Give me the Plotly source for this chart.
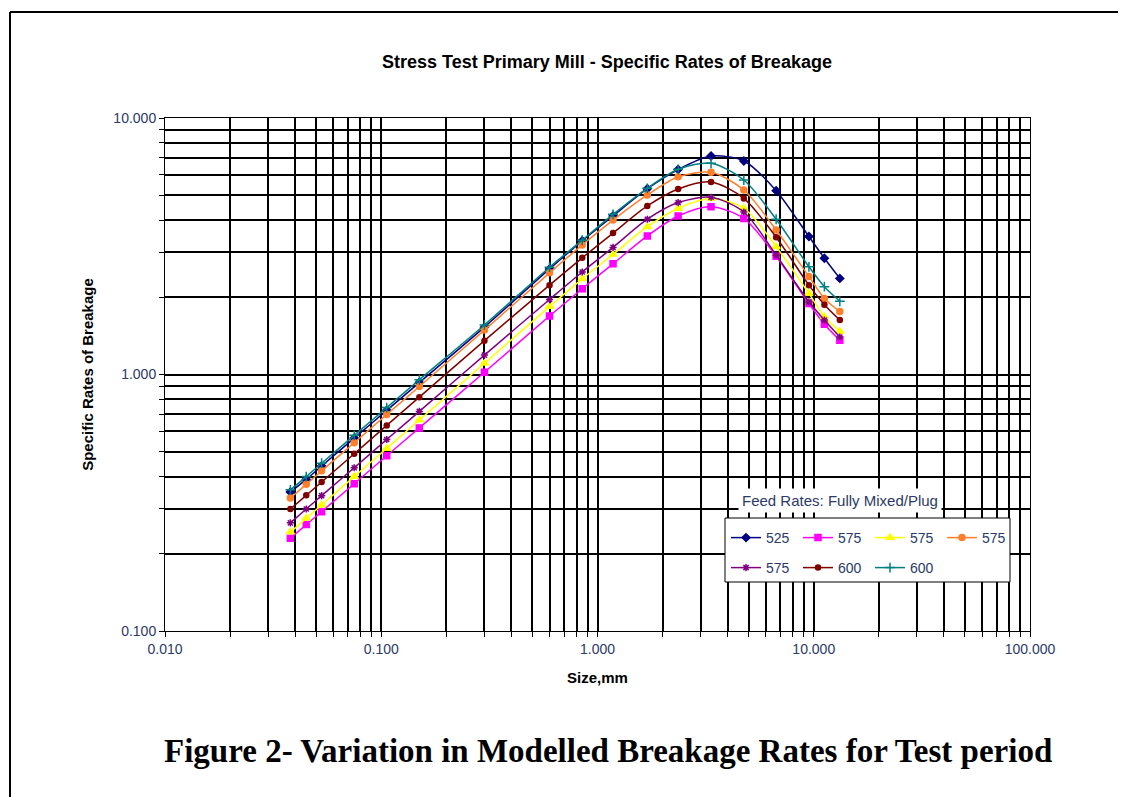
import plotly.graph_objects as go

# particle sizes (mm)
sizes = [0.038, 0.045, 0.053, 0.075, 0.106, 0.150, 0.300, 0.600, 0.850,
         1.18, 1.70, 2.36, 3.35, 4.75, 6.70, 9.50, 11.2, 13.2]

# specific rates of breakage per feed rate run
rate_525 = [0.348, 0.39, 0.44, 0.565, 0.725, 0.93, 1.53, 2.58, 3.32,
            4.15, 5.30, 6.30, 7.11, 6.80, 5.21, 3.45, 2.84, 2.37]
rate_575a = [0.230, 0.260, 0.292, 0.375, 0.482, 0.619, 1.02, 1.69, 2.16,
             2.70, 3.47, 4.15, 4.51, 4.06, 2.89, 1.89, 1.57, 1.36]
rate_575b = [0.243, 0.275, 0.310, 0.400, 0.515, 0.665, 1.106, 1.84, 2.36,
             2.94, 3.77, 4.44, 4.85, 4.45, 3.15, 2.07, 1.68, 1.47]
rate_575c = [0.330, 0.373, 0.421, 0.542, 0.698, 0.898, 1.49, 2.49, 3.20,
             4.00, 5.01, 5.90, 6.14, 5.24, 3.66, 2.41, 1.98, 1.76]
rate_575d = [0.264, 0.299, 0.337, 0.433, 0.558, 0.718, 1.19, 1.96, 2.51,
             3.13, 4.03, 4.68, 4.91, 4.30, 2.92, 1.92, 1.63, 1.40]
rate_600a = [0.299, 0.338, 0.381, 0.491, 0.633, 0.816, 1.355, 2.23, 2.85,
             3.56, 4.54, 5.29, 5.63, 4.86, 3.43, 2.23, 1.87, 1.63]
rate_600b = [0.355, 0.40, 0.451, 0.579, 0.743, 0.954, 1.56, 2.62, 3.34,
             4.21, 5.32, 6.31, 6.66, 5.73, 4.03, 2.63, 2.20, 1.93]

x_ticks = [0.01, 0.1, 1, 10, 100]
x_ticktext = ["0.010", "0.100", "1.000", "10.000", "100.000"]
y_ticks = [0.1, 1, 10]
y_ticktext = ["0.100", "1.000", "10.000"]

# name, values, colour, marker, marker size, legend row
series = [
    ("525", rate_525, "#000080", "diamond", 6, "legend"),
    ("575", rate_575a, "#FF00FF", "square", 6, "legend"),
    ("575", rate_575b, "#FFFF00", "triangle-up", 7, "legend"),
    ("575", rate_575c, "#FF7F2A", "circle", 6, "legend"),
    ("575", rate_575d, "#800080", "asterisk-open", 6, "legend2"),
    ("600", rate_600a, "#800000", "circle", 5, "legend2"),
    ("600", rate_600b, "#008080", "cross-thin-open", 7, "legend2"),
]

LABEL = "#2b3a66"

# the page body adds an 8px offset, so the figure is drawn 8px smaller
W, H, OFF = 1118, 789, 8


# plot area on screen: x 165..1030, y 118..631
def px(x):
    return (x - 165) / 865


def py(y):
    return (631 - y) / 513


fig = go.Figure()
for name, vals, color, symbol, msize, leg in series:
    fig.add_trace(go.Scatter(
        x=sizes, y=vals, name=name, mode="lines+markers", legend=leg,
        line=dict(color=color, width=1.5, shape="spline", smoothing=0.8),
        marker=dict(symbol=symbol, size=msize, color=color,
                    line=dict(color=color, width=1.5)),
    ))

minor_vals = [k * 10.0 ** e for e in range(-2, 2) for k in range(2, 10)]

axis_common = dict(
    type="log", showgrid=True, gridcolor="black", gridwidth=1.8,
    ticks="outside", ticklen=5, tickcolor="black",
    showline=True, linecolor="black", linewidth=1, mirror=True,
    zeroline=False,
    tickfont=dict(family="Liberation Sans", size=14, color=LABEL),
)

legend_common = dict(
    orientation="h", xanchor="left", yanchor="top",
    bgcolor="rgba(0,0,0,0)", borderwidth=0,
    font=dict(family="Liberation Sans", size=14, color=LABEL),
    entrywidth=27, entrywidthmode="pixels", itemwidth=30,
)

fig.update_layout(
    width=W, height=H,
    paper_bgcolor="white", plot_bgcolor="white",
    margin=dict(l=165 - OFF, r=96, t=118 - OFF, b=166, autoexpand=False),
    font=dict(family="Liberation Sans", color="black"),
    title=dict(text="<b>Stress Test Primary Mill - Specific Rates of Breakage</b>",
               x=(607 - OFF) / W, xanchor="center", y=1 - (62 - OFF) / H, yanchor="middle",
               font=dict(size=18, color="black")),
    xaxis=dict(
        **axis_common, range=[-2, 2],
        tickvals=x_ticks, ticktext=x_ticktext,
        minor=dict(tickvals=minor_vals, showgrid=True, gridcolor="black",
                   gridwidth=1.8, ticks="outside", ticklen=5, tickcolor="black"),
        title=dict(text="<b>Size,mm</b>", font=dict(size=15, color="black"), standoff=16),
    ),
    yaxis=dict(
        **axis_common, range=[-1, 1],
        tickvals=y_ticks, ticktext=y_ticktext,
        minor=dict(tickvals=minor_vals, showgrid=True, gridcolor="black",
                   gridwidth=1.8, ticks="outside", ticklen=5, tickcolor="black"),
        title=dict(text="<b>Specific Rates of Breakage</b>", font=dict(size=15, color="black"),
                   standoff=16),
    ),
    legend=dict(**legend_common, x=px(726), y=py(522)),
    legend2=dict(**legend_common, x=px(726), y=py(552)),
    showlegend=True,
)

# white legend box behind the two legend rows
fig.add_shape(type="rect", xref="paper", yref="paper", layer="above",
              x0=px(725), x1=px(1010), y0=py(518), y1=py(582),
              fillcolor="white", line=dict(color="black", width=1))

# legend heading sitting above the legend box
fig.add_annotation(
    text="Feed Rates: Fully Mixed/Plug", xref="paper", yref="paper",
    x=px(738), y=py(500), xanchor="left", yanchor="middle",
    showarrow=False, bgcolor="white", borderpad=3,
    font=dict(family="Liberation Sans", size=15, color=LABEL),
)

# figure caption
fig.add_annotation(
    text="<b>Figure 2- Variation in Modelled Breakage Rates for Test period</b>",
    xref="paper", yref="paper", x=px(608), y=py(751),
    xanchor="center", yanchor="middle", showarrow=False,
    font=dict(family="Liberation Serif", size=33, color="black"),
)

# page frame: top and left rules
fig.add_shape(type="line", xref="paper", yref="paper",
              x0=px(10), x1=px(1126), y0=py(12), y1=py(12),
              line=dict(color="black", width=2))
fig.add_shape(type="line", xref="paper", yref="paper",
              x0=px(10), x1=px(10), y0=py(12), y1=py(797),
              line=dict(color="black", width=2))

fig.write_html("out.html")
